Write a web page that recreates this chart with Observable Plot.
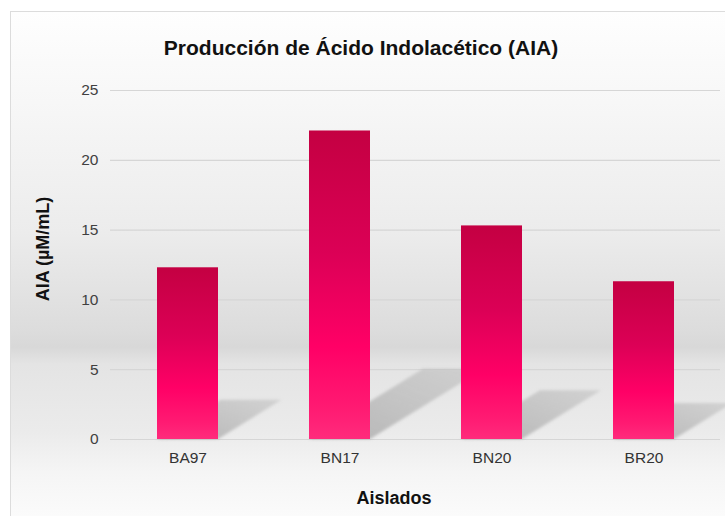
<!DOCTYPE html>
<html>
<head>
<meta charset="utf-8">
<script src="https://cdn.jsdelivr.net/npm/d3@7"></script>
<script src="https://cdn.jsdelivr.net/npm/@observablehq/plot@0.6"></script>
<style>
  body { margin: 0; background: #ffffff; }
  #wrap { position: relative; width: 725px; height: 516px; overflow: hidden; font-family: "Liberation Sans", Arial, sans-serif; }
  #frame { position: absolute; left: 10px; top: 11px; width: 730px; height: 520px; border: 1px solid #dcdcdc;
    background: linear-gradient(to bottom, #fefefe 0px, #f7f7f7 90px, #ececec 220px, #dcdcdc 320px, #d8d8d8 335px, #e4e4e4 352px, #ebebeb 420px, #f5f5f5 460px, #fbfbfb 505px); }
  #title { position: absolute; left: 0; width: 722px; top: 36px; text-align: center; font-size: 21px; font-weight: bold; color: #111; }
  #chart { position: absolute; left: 0; top: 0; }
  #xlabel { position: absolute; left: 0; width: 788px; top: 488px; text-align: center; font-size: 18px; font-weight: bold; color: #111; }
</style>
</head>
<body>
<div id="wrap">
  <div id="frame"></div>
  <div id="chart"></div>
  <div id="title">Producción de Ácido Indolacético (AIA)</div>
  <div id="xlabel">Aislados</div>
</div>
<script>
const categories = ["BA97", "BN17", "BN20", "BR20"];
const values = [12.3, 22.1, 15.3, 11.3];
const yTicks = [0, 5, 10, 15, 20, 25];
const yLabel = "AIA (µM/mL)";

const data = categories.map((c, i) => ({ cat: c, val: values[i] }));

const svg = Plot.plot({
  width: 725,
  height: 516,
  marginLeft: 110,
  marginRight: 5,
  marginTop: 90,
  marginBottom: 77,
  style: { background: "transparent", fontFamily: "'Liberation Sans', Arial, sans-serif", fontSize: "15.5px", color: "#404040" },
  x: { domain: categories, paddingInner: 0.6, paddingOuter: 0.3, align: 0.5 },
  y: { domain: [0, 25] },
  marks: [
    Plot.ruleY(yTicks, { stroke: "#d6d6d6", strokeWidth: 1.2 }),
    Plot.barY(data, { x: "cat", y: "val", fill: "url(#barGrad)", className: "mainbars" }),
    Plot.axisY(yTicks, { tickSize: 0, tickPadding: 12, fontSize: 15.5, fill: "#404040", label: null }),
    Plot.axisX({ tickSize: 0, tickPadding: 12, fontSize: 15.5, fill: "#333", label: null }),
    Plot.text([yLabel], { frameAnchor: "left", textAnchor: "middle", dx: -67, dy: -16, rotate: -90, fontSize: 18, fontWeight: "bold", fill: "#111" })
  ]
});

// defs: gradients and blur
const ns = "http://www.w3.org/2000/svg";
const defs = document.createElementNS(ns, "defs");
defs.innerHTML = `
  <linearGradient id="barGrad" x1="0" y1="0" x2="0" y2="1">
    <stop offset="0" stop-color="#c40042"/>
    <stop offset="0.4" stop-color="#dc0056"/>
    <stop offset="0.7" stop-color="#ff0066"/>
    <stop offset="0.9" stop-color="#ff1a72"/>
    <stop offset="1" stop-color="#ff2b7c"/>
  </linearGradient>
  <linearGradient id="shadowGrad" x1="0" y1="1" x2="1" y2="0">
    <stop offset="0" stop-color="#9a9a9a" stop-opacity="0.7"/>
    <stop offset="1" stop-color="#b0b0b0" stop-opacity="0.4"/>
  </linearGradient>
  <filter id="blurS" x="-20%" y="-20%" width="140%" height="140%">
    <feGaussianBlur stdDeviation="1.6"/>
  </filter>`;
svg.insertBefore(defs, svg.firstChild);

// shadows derived from the rendered bars (via Plot's scales)
const barGroup = svg.querySelector("g.mainbars") || svg.querySelector("g[aria-label='bar']");
const shadowG = document.createElementNS(ns, "g");
shadowG.setAttribute("filter", "url(#blurS)");
barGroup.querySelectorAll("rect").forEach(r => {
  const x = +r.getAttribute("x"), y = +r.getAttribute("y");
  const w = +r.getAttribute("width"), h = +r.getAttribute("height");
  const base = y + h;
  const dy = 0.228 * h, dx = 1.62 * dy;
  const p = document.createElementNS(ns, "polygon");
  p.setAttribute("points", `${x},${base} ${x + w},${base} ${x + w + dx},${base - dy} ${x + dx},${base - dy}`);
  p.setAttribute("fill", "url(#shadowGrad)");
  shadowG.appendChild(p);
});
barGroup.parentNode.insertBefore(shadowG, barGroup);

document.getElementById("chart").appendChild(svg);
</script>
</body>
</html>
